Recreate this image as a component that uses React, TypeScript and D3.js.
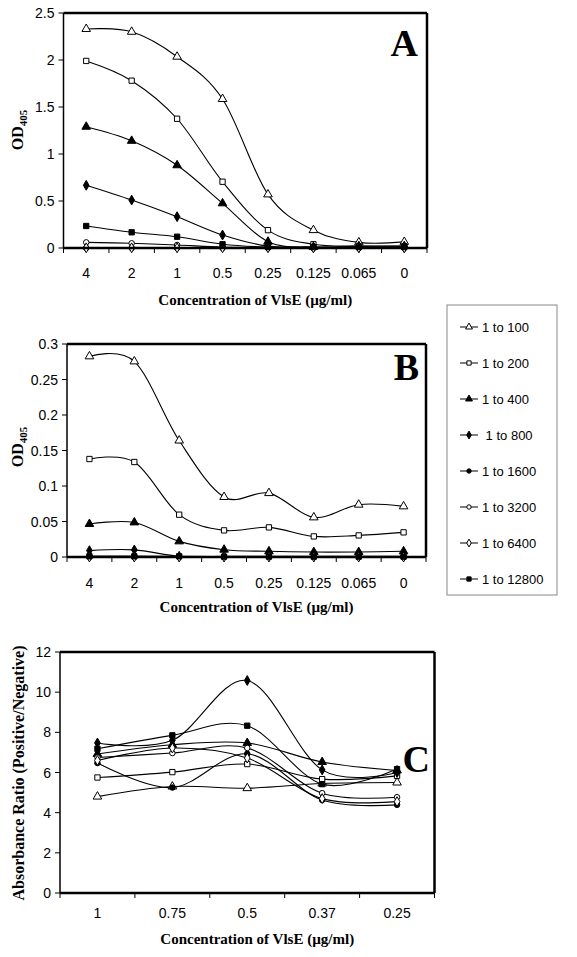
import React from "react";
import * as d3 from "d3";

// ---------- DATA ----------
const concAB = ["4", "2", "1", "0.5", "0.25", "0.125", "0.065", "0"];
const concC = ["1", "0.75", "0.5", "0.37", "0.25"];
const seriesNames = ["1 to 100", "1 to 200", "1 to 400", " 1 to 800", "1 to 1600", "1 to 3200", "1 to 6400", "1 to 12800"];
const seriesMarkers = ["triOpen", "sqOpen", "triFill", "diaFill", "cirFill", "cirOpen", "diaOpen", "sqFill"];

const ticksA = [0, 0.5, 1, 1.5, 2, 2.5];
const ticksB = [0, 0.05, 0.1, 0.15, 0.2, 0.25, 0.3];
const ticksC = [0, 2, 4, 6, 8, 10, 12];

// Panel A (OD405)
const a100 = [2.33, 2.3, 2.035, 1.585, 0.57, 0.19, 0.06, 0.065];
const a200 = [1.99, 1.78, 1.375, 0.705, 0.19, 0.04, 0.02, 0.02];
const a400 = [1.29, 1.14, 0.88, 0.475, 0.067, 0.01, 0.02, 0.02];
const a800 = [0.667, 0.51, 0.333, 0.138, 0.02, 0.005, 0.005, 0.005];
const a1600 = [0.0, 0.0, 0.0, 0.0, 0.0, 0.0, 0.0, 0.0];
const a3200 = [0.06, 0.05, 0.032, 0.01, 0.005, 0.005, 0.005, 0.005];
const a6400 = [0.002, 0.002, 0.002, 0.002, 0.002, 0.002, 0.002, 0.002];
const a12800 = [0.234, 0.167, 0.12, 0.04, 0.01, 0.01, 0.01, 0.01];

// Panel B (OD405)
const b100 = [0.2826, 0.2755, 0.164, 0.0845, 0.09, 0.0558, 0.0737, 0.0713];
const b200 = [0.138, 0.1338, 0.0596, 0.0375, 0.0417, 0.029, 0.0304, 0.0347];
const b400 = [0.0465, 0.0487, 0.022, 0.0103, 0.008, 0.007, 0.007, 0.008];
const b800 = [0.009, 0.01, 0.001, 0.001, 0.001, 0.001, 0.001, 0.001];
const b1600 = [0.0, 0.0, 0.0, 0.0, 0.0, 0.0, 0.0, 0.0];
const b3200 = [0.001, 0.001, 0.0005, 0.0005, 0.0005, 0.0005, 0.0005, 0.0005];
const b6400 = [0.0, 0.0, 0.0, 0.0, 0.0, 0.0, 0.0, 0.0];
const b12800 = [0.001, 0.001, 0.001, 0.0005, 0.0005, 0.0005, 0.0005, 0.0005];

// Panel C (absorbance ratio)
const c100 = [4.8, 5.3, 5.22, 5.45, 5.5];
const c200 = [5.75, 6.02, 6.42, 5.67, 5.83];
const c400 = [6.92, 7.38, 7.47, 6.52, 6.1];
const c800 = [7.47, 7.6, 10.58, 6.13, 6.0];
const c1600 = [6.47, 5.25, 6.93, 4.63, 4.39];
const c3200 = [6.75, 6.97, 7.22, 4.97, 4.77];
const c6400 = [6.6, 7.22, 6.72, 4.7, 4.55];
const c12800 = [7.18, 7.85, 8.33, 5.42, 6.17];

const dataA = [a100, a200, a400, a800, a1600, a3200, a6400, a12800];
const dataB = [b100, b200, b400, b800, b1600, b3200, b6400, b12800];
const dataC = [c100, c200, c400, c800, c1600, c3200, c6400, c12800];

// ---------- DRAWING ----------
const SANS = "'Liberation Sans', Arial, sans-serif";
const SERIF = "'Liberation Serif', 'Times New Roman', serif";

function Marker({ kind, x, y, s = 1 }: { kind: string; x: number; y: number; s?: number }) {
  const fill = kind.endsWith("Fill") ? "#000" : "#fff";
  let type: any = d3.symbolSquare;
  let size = 28;
  if (kind.startsWith("tri")) { type = d3.symbolTriangle; size = 32; }
  if (kind.startsWith("dia")) { type = d3.symbolDiamond; size = 28; }
  if (kind.startsWith("cir")) { type = d3.symbolCircle; size = 24; }
  const path = d3.symbol().type(type).size(size * s * s)();
  return <path d={path || ""} transform={`translate(${x},${y})`} fill={fill} stroke="#000" strokeWidth={1} />;
}

type PanelProps = {
  cats: string[];
  data: number[][];
  x0: number; x1: number; yTop: number; yBot: number;
  domain: [number, number];
  ticks: number[];
  tickFmt: (v: number) => string;
  letter: string; letterX: number; letterY: number;
  yTitle: React.ReactNode; yTitleX: number; yTitleY: number;
  xTitleY: number; xLabelY: number;
};

function Panel(p: PanelProps) {
  const xs = d3.scaleBand().domain(p.cats).range([p.x0, p.x1]);
  const ys = d3.scaleLinear().domain(p.domain).range([p.yBot, p.yTop]);
  const cx = (c: string) => (xs(c) as number) + xs.bandwidth() / 2;
  const line = d3.line<number>()
    .x((_, i) => cx(p.cats[i]))
    .y((v) => ys(v))
    .curve(d3.curveCatmullRom.alpha(0));
  const boundaries = p.cats.map((c) => xs(c) as number).concat([p.x1]);
  return (
    <g>
      {p.ticks.map((t) => (
        <g key={"yt" + t}>
          <line x1={p.x0 - 5} x2={p.x0} y1={ys(t)} y2={ys(t)} stroke="#000" strokeWidth={1} />
          <text x={p.x0 - 9} y={ys(t) + 5} textAnchor="end" fontFamily={SANS} fontSize={14}>{p.tickFmt(t)}</text>
        </g>
      ))}
      {boundaries.map((b, i) => (
        <line key={"xt" + i} x1={b} x2={b} y1={p.yBot} y2={p.yBot + 5} stroke="#000" strokeWidth={1} />
      ))}
      {p.cats.map((c) => (
        <text key={"xl" + c} x={cx(c)} y={p.xLabelY} textAnchor="middle" fontFamily={SANS} fontSize={14}>{c}</text>
      ))}
      {p.data.map((vals, si) => (
        <path key={"l" + si} d={line(vals) || ""} fill="none" stroke="#000" strokeWidth={1.1} />
      ))}
      {p.data.map((vals, si) => vals.map((v, i) => (
        <Marker key={"m" + si + "-" + i} kind={seriesMarkers[si]} x={cx(p.cats[i])} y={ys(v)} />
      )))}
      <line x1={p.x0} x2={p.x0} y1={p.yTop} y2={p.yBot} stroke="#000" strokeWidth={1.5} />
      <line x1={p.x0} x2={p.x1} y1={p.yTop} y2={p.yTop} stroke="#000" strokeWidth={2.5} />
      <line x1={p.x1} x2={p.x1} y1={p.yTop} y2={p.yBot} stroke="#000" strokeWidth={2.5} />
      <line x1={p.x0} x2={p.x1} y1={p.yBot} y2={p.yBot} stroke="#000" strokeWidth={2.5} />
      <text x={p.letterX} y={p.letterY} textAnchor="end" fontFamily={SERIF} fontWeight="bold" fontSize={38}>{p.letter}</text>
      <text transform={`translate(${p.yTitleX},${p.yTitleY}) rotate(-90)`} textAnchor="middle" fontFamily={SERIF} fontWeight="bold" fontSize={16}>{p.yTitle}</text>
      <text x={(p.x0 + p.x1) / 2 + 10} y={p.xTitleY} textAnchor="middle" fontFamily={SERIF} fontWeight="bold" fontSize={15}>
        Concentration of VlsE (µg/ml)
      </text>
    </g>
  );
}

const od = (
  <>
    <tspan>OD</tspan>
    <tspan fontSize={11} dy={4}>405</tspan>
  </>
);

export default function App() {
  const fmtA = (v: number) => String(v);
  const legendX = 447, legendY = 305, legendW = 110, legendH = 290;
  return (
    <svg width={577} height={957} style={{ position: "absolute", left: 0, top: 0, background: "#fff" }}>
      <rect x={0} y={0} width={577} height={957} fill="#fff" />
      <Panel cats={concAB} data={dataA} x0={63.5} x1={427} yTop={13} yBot={248} domain={[0, 2.5]} ticks={ticksA}
        tickFmt={fmtA} letter="A" letterX={418} letterY={56} yTitle={od} yTitleX={23} yTitleY={130}
        xTitleY={305} xLabelY={278} />
      <Panel cats={concAB} data={dataB} x0={67} x1={426} yTop={344} yBot={557} domain={[0, 0.3]} ticks={ticksB}
        tickFmt={fmtA} letter="B" letterX={419} letterY={380} yTitle={od} yTitleX={23} yTitleY={447}
        xTitleY={612} xLabelY={588} />
      <Panel cats={concC} data={dataC} x0={60} x1={434.5} yTop={652} yBot={893} domain={[0, 12]} ticks={ticksC}
        tickFmt={fmtA} letter="C" letterX={430} letterY={772}
        yTitle={"Absorbance Ratio (Positive/Negative)"} yTitleX={24} yTitleY={773}
        xTitleY={944} xLabelY={918} />
      <rect x={legendX} y={legendY} width={legendW} height={legendH} fill="#fff" stroke="#888" strokeWidth={1} />
      {seriesNames.map((n, i) => {
        const y = 327 + i * 36;
        return (
          <g key={"lg" + i}>
            <line x1={460} x2={478} y1={y} y2={y} stroke="#000" strokeWidth={1} />
            <Marker kind={seriesMarkers[i]} x={469} y={y} s={0.8} />
            <text x={482} y={y + 5} fontFamily={SANS} fontSize={13} style={{ whiteSpace: "pre" }}>{n}</text>
          </g>
        );
      })}
    </svg>
  );
}
